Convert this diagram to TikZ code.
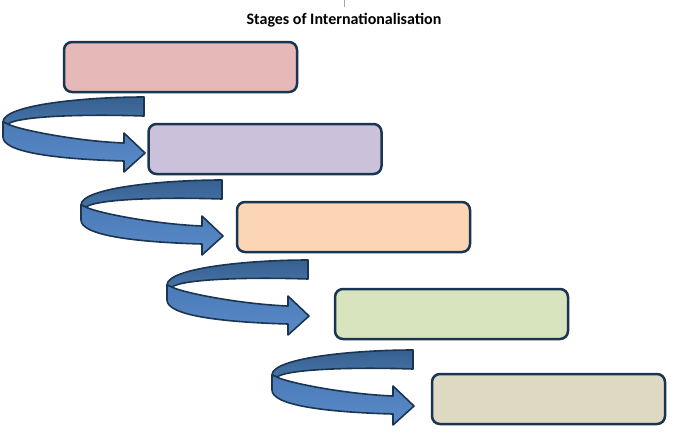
\documentclass[tikz,border=0pt]{standalone}
\usepackage{fontspec}
\setmainfont{Carlito}
\definecolor{edge}{HTML}{1A3552}
\definecolor{cA}{HTML}{E6B9B8}
\definecolor{cB}{HTML}{CCC1DA}
\definecolor{cC}{HTML}{FCD5B5}
\definecolor{cD}{HTML}{D7E4BD}
\definecolor{cE}{HTML}{DDD9C3}
\definecolor{backTop}{HTML}{36608F}
\definecolor{backBot}{HTML}{4673A8}
\definecolor{frontTop}{HTML}{4A7BB7}
\definecolor{frontBot}{HTML}{5A8BC8}
\tikzset{
  stagebox/.style={draw=edge, line width=2.5pt, rounded corners=8pt, minimum width=233pt, minimum height=50pt, inner sep=0pt},
  bandline/.style={draw=edge, line width=1.6pt, line join=round},
  uturn/.pic={
    \shade[bandline, top color=backTop, bottom color=backBot]
      (0,0) .. controls (-60,0) and (-141,8) .. (-141,25)
      -- (-136,27) .. controls (-125,19) and (-60,17) .. (0,19) -- cycle;
    \shade[bandline, top color=frontTop, bottom color=frontBot]
      (-141,25) -- (-141,40) .. controls (-141,55) and (-90,62) .. (-20,64)
      -- (-20,75) -- (1,56) -- (-20,36) -- (-20,46)
      .. controls (-70,44) and (-128,32) .. (-136,27) -- cycle;
  }
}
\begin{document}
\begin{tikzpicture}[x=1pt,y=-1pt]
\useasboundingbox (0,0) rectangle (692,445);
\fill[white] (0,0) rectangle (692,445);
\coordinate (tickTop) at (344,0);
\coordinate (tickBot) at (344,7);
\draw[gray!70, line width=0.8pt] (tickTop) -- (tickBot);
\node[font=\fontsize{16}{18}\selectfont\bfseries] (title) at (344,20) {Stages of Internationalisation};
\node[stagebox, fill=cA] (b1) at (180.5,67) {};
\node[stagebox, fill=cB] (b2) at (265,149) {};
\node[stagebox, fill=cC] (b3) at (353.5,227) {};
\node[stagebox, fill=cD] (b4) at (451.5,314) {};
\node[stagebox, fill=cE] (b5) at (548.5,399) {};
\coordinate (a1) at (144,97);
\coordinate (a2) at (222,180);
\coordinate (a3) at (308,260);
\coordinate (a4) at (413,350);
\pic at (a1) {uturn};
\pic at (a2) {uturn};
\pic at (a3) {uturn};
\pic at (a4) {uturn};
\end{tikzpicture}
\end{document}
